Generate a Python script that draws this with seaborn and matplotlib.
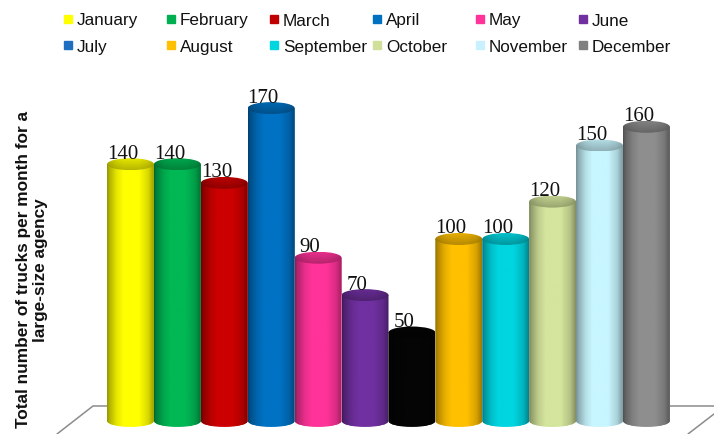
import numpy as np
import matplotlib
matplotlib.use("Agg")
import matplotlib.pyplot as plt
from matplotlib.colors import to_rgb
from matplotlib.lines import Line2D
from matplotlib.patches import Ellipse, PathPatch
from matplotlib.path import Path
import seaborn as sns

months = ["January", "February", "March", "April", "May", "June",
          "July", "August", "September", "October", "November", "December"]
values = [140, 140, 130, 170, 90, 70, 50, 100, 100, 120, 150, 160]
bar_colors = ["#FFFF00", "#00B854", "#CC0000", "#0072C4", "#FF3399", "#7030A0",
              "#050505", "#FFC000", "#00D5E0", "#D4E59C", "#C8F6FF", "#8E8E8E"]
legend_colors = ["#FFFF00", "#00B050", "#C00000", "#0070C0", "#FF3399", "#7030A0",
                 "#1F6FC0", "#FFC000", "#00D5E0", "#D0E09A", "#C8F0FF", "#808080"]
ylabel_text = "Total number of trucks per month for a\nlarge-size agency"

W, H = 714, 435
X0, XSTEP = 130.5, 46.9     # pixel centre of first bar, pixel step
Y0, YSCALE = 427.0, 1.87    # pixel of value 0, pixels per unit

sns.set_theme(style="white")
plt.rcParams["font.family"] = ["Liberation Sans", "DejaVu Sans"]

fig = plt.figure(figsize=(W / 100, H / 100), dpi=100, facecolor="white")
ax = fig.add_axes([0, 0, 1, 1])
sns.barplot(x=months, y=values, hue=months, palette=bar_colors, width=1.0,
            saturation=1, legend=False, ax=ax)
xlim = (-X0 / XSTEP, (W - X0) / XSTEP)
ylim = ((Y0 - H) / YSCALE, Y0 / YSCALE)

# cylinder shading drawn over each seaborn bar
xs = np.linspace(0, 1, 200)
shade = np.interp(xs, [0, 0.04, 0.2, 0.35, 0.68, 0.88, 1],
                  [0.55, 0.68, 0.9, 1, 1, 0.85, 0.62])
ell_h = 6.4
base = 2.7
bars = [p for c in ax.containers for p in c]
for i, p in enumerate(bars):
    x, w, top = p.get_x(), p.get_width(), p.get_height()
    rgb = np.array(to_rgb(bar_colors[i]))
    k = 0.5523
    a, b = w / 2, ell_h / 2
    cx = x + a
    verts = [(x, top), (x, base),
             (x, base - k * b), (cx - k * a, base - b), (cx, base - b),
             (cx + k * a, base - b), (x + w, base - k * b), (x + w, base),
             (x + w, top), (x, top)]
    codes = [Path.MOVETO, Path.LINETO, Path.CURVE4, Path.CURVE4, Path.CURVE4,
             Path.CURVE4, Path.CURVE4, Path.CURVE4, Path.LINETO, Path.CLOSEPOLY]
    clip = PathPatch(Path(verts, codes), transform=ax.transData, fc="none", ec="none")
    ax.add_patch(clip)
    p.set_clip_path(clip)
    p.set_zorder(2 + i)
    grad = np.clip(shade[None, :, None] * rgb[None, None, :], 0, 1)
    im = ax.imshow(grad, extent=(x, x + w, base - b, top), aspect="auto",
                   origin="lower", interpolation="bilinear", zorder=2 + i)
    im.set_clip_path(clip)
    # top cap
    cap = Ellipse((cx, top), w, ell_h, transform=ax.transData, fc="none", ec="none")
    ax.add_patch(cap)
    cap_rows = np.linspace(0.72, 0.9, 12)[:, None, None]
    cap_grad = np.clip(np.sqrt(shade)[None, :, None] * cap_rows * rgb[None, None, :], 0, 1)
    imc = ax.imshow(cap_grad, extent=(x, x + w, top - b, top + b), aspect="auto",
                    origin="lower", interpolation="bilinear", zorder=2.5 + i)
    imc.set_clip_path(cap)
    ax.annotate(str(values[i]), xy=(cx, top), xytext=(-8, 11), textcoords="offset pixels",
                ha="center", va="center", fontsize=15, family="Liberation Serif",
                color="#111111", zorder=40)

ax.set_xlim(*xlim)
ax.set_ylim(*ylim)
ax.set_xticks([])
ax.set_yticks([])
ax.set_xlabel("")
sns.despine(ax=ax, left=True, bottom=True)
ax.set_ylabel(ylabel_text, fontweight="bold", fontsize=12.4, color="#111111",
              linespacing=1.15, ha="center", va="center")
ax.yaxis.set_label_coords(32 / W, 1 - 270 / H)

# floor lines in axes fractions
floor = dict(transform=ax.transAxes, color="#8C8C8C", lw=1.1, zorder=1, clip_on=False)
fy = 1 - 407 / H
ax.add_line(Line2D([57 / W, 93 / W, 110 / W], [0, fy, fy], **floor))
ax.add_line(Line2D([665 / W, 1], [fy, fy], **floor))
ax.add_line(Line2D([688 / W, 1], [0, 1 - 415 / H], **floor))

# legend: six fixed columns, two rows
col_x = [62, 165, 268, 371, 474, 577]
for c in range(6):
    handles = [Line2D([], [], ls="", marker="s", ms=5.2, color=legend_colors[r * 6 + c])
               for r in range(2)]
    labels = [months[c], months[6 + c]]
    fig.legend(handles, labels, loc="upper left", frameon=False, fontsize=12.3,
               bbox_to_anchor=(col_x[c] / W, 1 - 13.5 / H), borderaxespad=0, borderpad=0,
               handlelength=0.7, handletextpad=0.17, labelspacing=0.66,
               labelcolor="#111111")

fig.savefig("out.png", dpi=100)
